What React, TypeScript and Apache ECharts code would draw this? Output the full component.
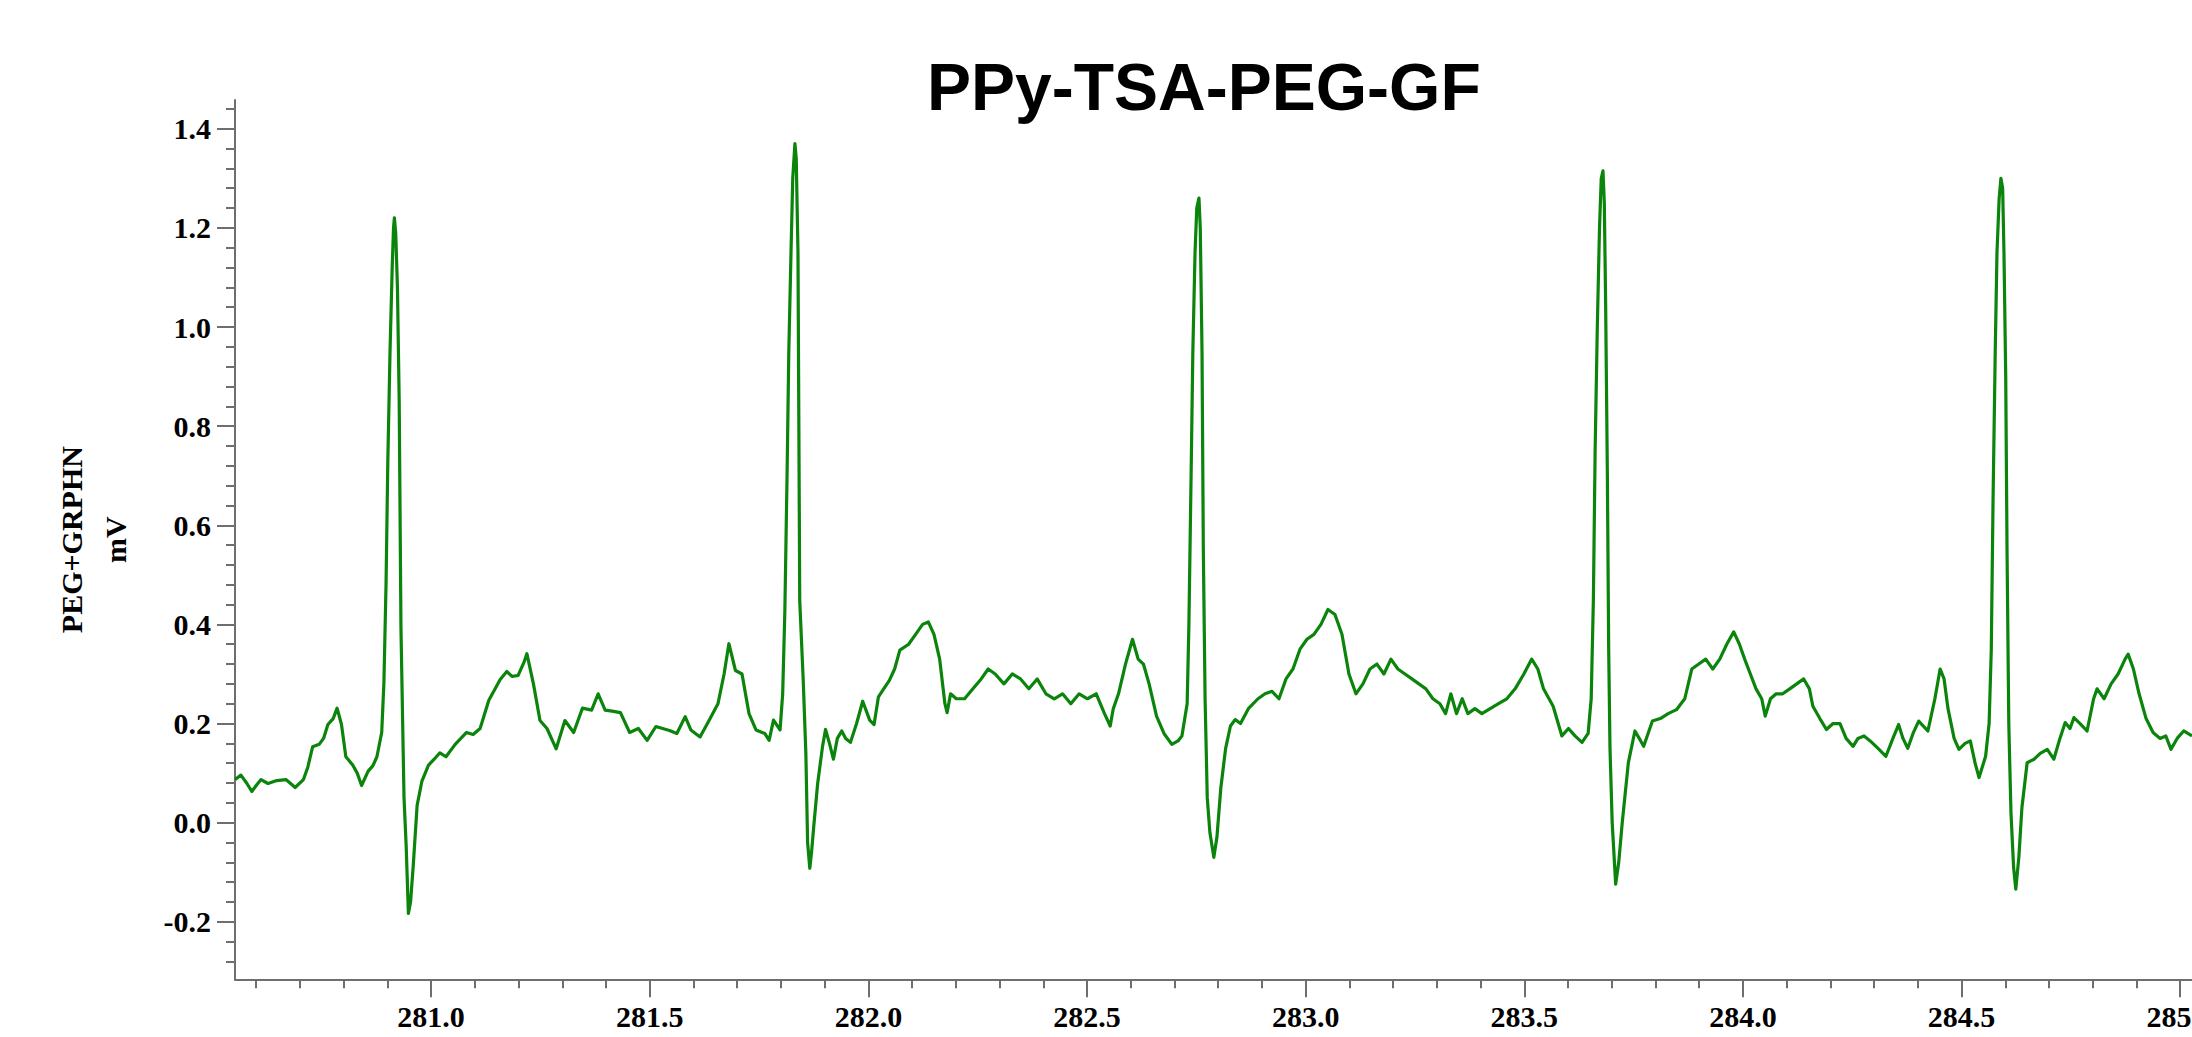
import React, { useEffect, useRef } from "react";
import * as echarts from "echarts";

const TITLE = "PPy-TSA-PEG-GF";
const Y_NAME = "PEG+GRPHN\nmV";

const X_MIN = 280.5515;
const X_MAX = 285.027;
const Y_MIN = -0.316;
const Y_MAX = 1.458;

const X_LABELS = [281.0, 281.5, 282.0, 282.5, 283.0, 283.5, 284.0, 284.5, 285.0];
const Y_LABELS = [-0.2, 0.0, 0.2, 0.4, 0.6, 0.8, 1.0, 1.2, 1.4];

// minor tick positions (every 0.1 s and every 0.04 mV)
const X_MINOR: number[] = [];
for (let i = 2806; i <= 2850; i++) X_MINOR.push(i / 10);
const Y_MINOR: number[] = [];
for (let i = -7; i <= 36; i++) Y_MINOR.push(Math.round(i * 4) / 100);

// ECG trace, beat by beat (time in s, value in mV)
const seg1Time = [
  280.552, 280.565, 280.578, 280.59, 280.6, 280.611, 280.627, 280.647, 280.668, 280.68,
  280.689, 280.708, 280.718, 280.729, 280.744, 280.754, 280.764, 280.776, 280.785, 280.795,
  280.805, 280.821, 280.831, 280.841, 280.856, 280.867, 280.876, 280.887, 280.892, 280.897,
  280.901, 280.906, 280.911, 280.914, 280.916, 280.919, 280.923, 280.927, 280.931, 280.936,
  280.938, 280.943, 280.948, 280.953, 280.959, 280.968, 280.979, 280.994, 281.007, 281.02,
  281.034, 281.055, 281.068, 281.081, 281.096, 281.112, 281.132, 281.158, 281.173, 281.185,
  281.199, 281.213, 281.219, 281.234, 281.249, 281.265, 281.286, 281.306, 281.326, 281.346,
  281.367, 281.382, 281.398, 281.414, 281.433, 281.454, 281.474, 281.494, 281.514, 281.545,
  281.562, 281.581, 281.594,
];
const seg1Mv = [
  0.087, 0.096, 0.08, 0.063, 0.075, 0.087, 0.079, 0.085, 0.087, 0.078,
  0.071, 0.087, 0.112, 0.153, 0.158, 0.17, 0.198, 0.21, 0.231, 0.198,
  0.133, 0.116, 0.1, 0.075, 0.104, 0.115, 0.133, 0.182, 0.281, 0.485,
  0.73, 0.95, 1.12, 1.2, 1.22, 1.19, 1.08, 0.85, 0.395, 0.15,
  0.051, -0.048, -0.183, -0.16, -0.088, 0.035, 0.084, 0.116, 0.128, 0.141,
  0.133, 0.158, 0.17, 0.182, 0.178, 0.19, 0.247, 0.289, 0.305, 0.295,
  0.297, 0.325, 0.341, 0.28, 0.206, 0.19, 0.149, 0.206, 0.182, 0.231,
  0.227, 0.26, 0.227, 0.225, 0.222, 0.182, 0.19, 0.166, 0.194, 0.186,
  0.18, 0.214, 0.187,
];

const seg2Time = [
  281.615, 281.635, 281.656, 281.67, 281.681, 281.696, 281.711, 281.727, 281.743, 281.763,
  281.773, 281.783, 281.798, 281.804, 281.809, 281.814, 281.818, 281.823, 281.827, 281.832,
  281.835, 281.839, 281.841, 281.843, 281.851, 281.857, 281.861, 281.866, 281.87, 281.875,
  281.884, 281.895, 281.902, 281.911, 281.92, 281.929, 281.939, 281.948, 281.959, 281.973,
  281.987, 282.003, 282.013, 282.023, 282.035, 282.048, 282.06, 282.072, 282.092, 282.108,
  282.124, 282.137, 282.15, 282.163, 282.175, 282.18, 282.188, 282.201, 282.22, 282.239,
  282.258, 282.274, 282.29, 282.31, 282.329, 282.348, 282.367, 282.386, 282.406, 282.425,
  282.444, 282.463, 282.482, 282.501, 282.521, 282.54, 282.553, 282.56, 282.572, 282.588,
  282.604, 282.617, 282.629, 282.642, 282.659, 282.676, 282.694, 282.708, 282.717, 282.729,
];
const seg2Mv = [
  0.173, 0.205, 0.24, 0.3, 0.361, 0.307, 0.3, 0.22, 0.187, 0.18,
  0.166, 0.207, 0.187, 0.26, 0.428, 0.7, 0.95, 1.15, 1.3, 1.37,
  1.34, 1.15, 0.8, 0.448, 0.287, 0.14, -0.04, -0.092, -0.06, -0.008,
  0.079, 0.153, 0.188, 0.16, 0.128, 0.17, 0.185, 0.17, 0.162, 0.2,
  0.245, 0.207, 0.198, 0.254, 0.27, 0.287, 0.31, 0.348, 0.36, 0.38,
  0.4, 0.405, 0.38, 0.33, 0.24, 0.222, 0.26, 0.25, 0.25, 0.27,
  0.29, 0.31, 0.3, 0.28, 0.3, 0.29, 0.27, 0.29, 0.26, 0.25,
  0.26, 0.24, 0.26, 0.25, 0.26, 0.22, 0.195, 0.23, 0.26, 0.32,
  0.37, 0.33, 0.32, 0.28, 0.215, 0.18, 0.158, 0.165, 0.175, 0.24,
];

const seg3Time = [
  282.733, 282.738, 282.742, 282.747, 282.751, 282.756, 282.759, 282.763, 282.766, 282.77,
  282.775, 282.781, 282.79, 282.797, 282.806, 282.817, 282.828, 282.839, 282.851, 282.869,
  282.891, 282.907, 282.923, 282.939, 282.955, 282.971, 282.987, 283.003, 283.019, 283.035,
  283.051, 283.067, 283.083, 283.099, 283.115, 283.131, 283.147, 283.163, 283.179, 283.195,
  283.211, 283.227, 283.243, 283.259, 283.275, 283.291, 283.307, 283.32, 283.332, 283.345,
  283.358, 283.371, 283.387, 283.403, 283.422, 283.441, 283.46, 283.479, 283.499, 283.517,
  283.531, 283.544, 283.566, 283.586, 283.601, 283.616, 283.632, 283.646, 283.653,
];
const seg3Mv = [
  0.4, 0.7, 0.95, 1.15, 1.24, 1.26, 1.2, 0.95, 0.55, 0.25,
  0.05, -0.02, -0.07, -0.03, 0.07, 0.15, 0.195, 0.208, 0.2, 0.23,
  0.25, 0.26, 0.265, 0.25, 0.29, 0.31, 0.35, 0.37, 0.38, 0.4,
  0.43, 0.42, 0.38, 0.3, 0.26, 0.28, 0.31, 0.32, 0.3, 0.33,
  0.31, 0.3, 0.29, 0.28, 0.27, 0.25, 0.24, 0.22, 0.26, 0.22,
  0.25, 0.22, 0.23, 0.22, 0.23, 0.24, 0.25, 0.27, 0.3, 0.33,
  0.31, 0.27, 0.235, 0.175, 0.19, 0.175, 0.162, 0.18, 0.25,
];

const seg4Time = [
  283.658, 283.662, 283.667, 283.672, 283.676, 283.68, 283.683, 283.686, 283.69, 283.693,
  283.696, 283.701, 283.709, 283.716, 283.724, 283.738, 283.753, 283.763, 283.773, 283.793,
  283.811, 283.829, 283.848, 283.867, 283.883, 283.899, 283.915, 283.931, 283.947, 283.963,
  283.979, 283.992, 284.004, 284.017, 284.03, 284.043, 284.051, 284.063, 284.076, 284.091,
  284.107, 284.123, 284.139, 284.152, 284.16, 284.176, 284.191, 284.206, 284.222, 284.236,
  284.252, 284.263, 284.277, 284.291, 284.309, 284.327, 284.343, 284.356, 284.366, 284.377,
  284.389, 284.402, 284.423, 284.439, 284.451, 284.46, 284.469, 284.483, 284.494, 284.508,
  284.52, 284.531, 284.54, 284.555, 284.563,
];
const seg4Mv = [
  0.45, 0.75, 1.0, 1.2, 1.3, 1.315, 1.25, 1.05, 0.7, 0.35,
  0.15, 0.0, -0.124, -0.08, 0.0, 0.121, 0.185, 0.17, 0.154, 0.205,
  0.21, 0.22, 0.228, 0.25, 0.31, 0.32, 0.33, 0.31, 0.33, 0.36,
  0.385, 0.36, 0.33, 0.3, 0.27, 0.25, 0.215, 0.25, 0.26, 0.26,
  0.27, 0.28, 0.29, 0.27, 0.235, 0.21, 0.188, 0.2, 0.2, 0.17,
  0.154, 0.17, 0.175, 0.165, 0.15, 0.134, 0.17, 0.198, 0.17, 0.15,
  0.18, 0.205, 0.185, 0.25, 0.31, 0.29, 0.23, 0.17, 0.148, 0.16,
  0.165, 0.12, 0.091, 0.134, 0.2,
];

const seg5Time = [
  284.568, 284.572, 284.577, 284.581, 284.586, 284.59, 284.594, 284.597, 284.601, 284.604,
  284.608, 284.613, 284.619, 284.624, 284.631, 284.638, 284.65, 284.666, 284.68, 284.696,
  284.711, 284.725, 284.737, 284.748, 284.757, 284.771, 284.787, 284.802, 284.81, 284.826,
  284.842, 284.858, 284.874, 284.881, 284.893, 284.906, 284.922, 284.938, 284.954, 284.967,
  284.979, 284.993, 285.008, 285.027,
];
const seg5Mv = [
  0.35, 0.65, 0.95, 1.15, 1.26, 1.3, 1.28, 1.15, 0.9, 0.55,
  0.2, 0.02, -0.09, -0.134, -0.07, 0.03, 0.121, 0.128, 0.14, 0.148,
  0.128, 0.17, 0.202, 0.19, 0.212, 0.2, 0.185, 0.25, 0.27, 0.25,
  0.28, 0.3, 0.33, 0.34, 0.31, 0.26, 0.21, 0.182, 0.17, 0.175,
  0.148, 0.17, 0.185, 0.175,
];

const TIMES = [...seg1Time, ...seg2Time, ...seg3Time, ...seg4Time, ...seg5Time];
const VALUES = [...seg1Mv, ...seg2Mv, ...seg3Mv, ...seg4Mv, ...seg5Mv];

const AXIS_COLOR = "#6e6e6e";
const LINE_COLOR = "#0b840b";
const SERIF = "'Liberation Serif', 'Times New Roman', serif";
const SANS = "'Liberation Sans', Arial, Helvetica, sans-serif";

export default function App() {
  const ref = useRef<HTMLDivElement>(null);

  useEffect(() => {
    if (!ref.current) return;
    const chart = echarts.init(ref.current, undefined, { renderer: "svg" });
    const gridPos = {
      left: 235,
      top: 100,
      right: 0,
      bottom: 57.7,
      containLabel: false,
      outerBoundsMode: "none",
    };
    const labelStyle = {
      fontFamily: SERIF,
      fontSize: 30,
      fontWeight: "bold" as const,
      color: "#000",
    };
    const data = TIMES.map((t, i) => [t, VALUES[i]]);
    chart.setOption({
      animation: false,
      backgroundColor: "#ffffff",
      title: {
        text: TITLE,
        left: 927,
        top: 54,
        padding: 0,
        textStyle: {
          fontFamily: SANS,
          fontSize: 66,
          fontWeight: "bold",
          color: "#000",
        },
      },
      grid: [gridPos, { ...gridPos }],
      xAxis: [
        {
          type: "value",
          gridIndex: 0,
          min: X_MIN,
          max: X_MAX,
          axisLine: { show: true, onZero: false, lineStyle: { color: AXIS_COLOR, width: 2 } },
          axisTick: {
            show: true,
            customValues: X_LABELS,
            length: 18,
            lineStyle: { color: AXIS_COLOR, width: 2 },
          },
          axisLabel: {
            show: true,
            customValues: X_LABELS,
            formatter: (v: number) => v.toFixed(1),
            margin: 22,
            ...labelStyle,
          },
          splitLine: { show: false },
        },
        {
          type: "value",
          gridIndex: 1,
          min: X_MIN,
          max: X_MAX,
          axisLine: { show: false, onZero: false },
          axisTick: {
            show: true,
            customValues: X_MINOR,
            length: 9,
            lineStyle: { color: AXIS_COLOR, width: 2 },
          },
          axisLabel: { show: false },
          splitLine: { show: false },
        },
      ],
      yAxis: [
        {
          type: "value",
          gridIndex: 0,
          min: Y_MIN,
          max: Y_MAX,
          name: Y_NAME,
          nameLocation: "middle",
          nameRotate: 90,
          nameGap: 98,
          nameTextStyle: {
            fontFamily: SERIF,
            fontSize: 30,
            fontWeight: "bold",
            color: "#000",
            lineHeight: 44,
            align: "center",
          },
          axisLine: { show: true, onZero: false, lineStyle: { color: AXIS_COLOR, width: 2 } },
          axisTick: {
            show: true,
            customValues: Y_LABELS,
            length: 18,
            lineStyle: { color: AXIS_COLOR, width: 2 },
          },
          axisLabel: {
            show: true,
            customValues: Y_LABELS,
            formatter: (v: number) => v.toFixed(1),
            margin: 24,
            ...labelStyle,
          },
          splitLine: { show: false },
        },
        {
          type: "value",
          gridIndex: 1,
          min: Y_MIN,
          max: Y_MAX,
          axisLine: { show: false, onZero: false },
          axisTick: {
            show: true,
            customValues: Y_MINOR,
            length: 9,
            lineStyle: { color: AXIS_COLOR, width: 2 },
          },
          axisLabel: { show: false },
          splitLine: { show: false },
        },
      ],
      series: [
        {
          type: "line",
          xAxisIndex: 0,
          yAxisIndex: 0,
          data,
          showSymbol: false,
          symbol: "none",
          silent: true,
          lineStyle: { color: LINE_COLOR, width: 3.2, join: "round" },
        },
      ],
    });
    return () => chart.dispose();
  }, []);

  return (
    <div
      ref={ref}
      style={{
        position: "fixed",
        left: 0,
        top: 0,
        width: 2192,
        height: 1037,
        background: "#fff",
      }}
    />
  );
}
